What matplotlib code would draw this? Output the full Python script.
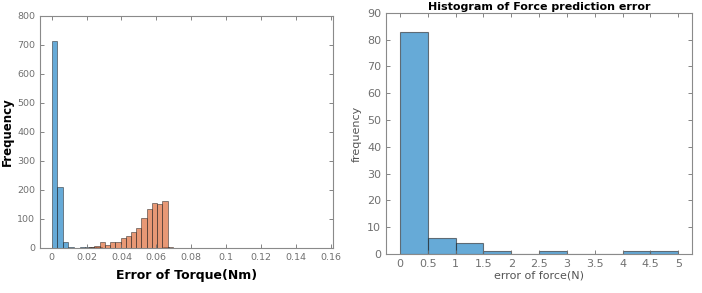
import matplotlib
matplotlib.use("Agg")
import matplotlib.pyplot as plt
import numpy as np

# left: torque error histograms (two overlapping series)
blue_width = 0.0032
blue_counts = [715, 212, 20, 3, 0, 4, 4, 3, 2, 1, 0, 0, 0, 0, 0, 0,
               0, 0, 0, 0, 2, 0, 0, 0, 0, 0, 0, 0, 0, 0, 0, 0,
               0, 0, 0, 0, 0, 0, 0, 0, 0, 0, 0, 0, 0, 0, 0, 0]
orange_start = 0.0185
orange_width = 0.003
orange_counts = [1, 3, 7, 20, 10, 20, 20, 35, 40, 55, 70, 105, 135, 155, 150, 162, 2]

# right: force error histogram
force_edges = [0, 0.5, 1, 1.5, 2, 2.5, 3, 3.5, 4, 4.5, 5]
force_counts = [83, 6, 4, 1, 0, 1, 0, 0, 1, 1]

blue = (0.0, 0.447, 0.741, 0.6)
orange = (0.85, 0.325, 0.098, 0.6)
edge = (0.15, 0.15, 0.15, 0.6)
grey = "#707070"

fig = plt.figure(figsize=(7.02, 2.93), dpi=100)

def style(ax, fs):
    ax.tick_params(direction="in", top=True, right=True, length=3, width=0.6,
                   colors=grey, labelsize=fs, labelcolor=grey)
    for s in ax.spines.values():
        s.set_color("#8a8a8a")
        s.set_linewidth(0.8)

ax1 = fig.add_axes([0.057, 0.1536, 0.417, 0.792])
be = np.arange(len(blue_counts)) * blue_width
ax1.bar(be, blue_counts, width=blue_width, align="edge", color=blue,
        edgecolor=edge, linewidth=0.6)
oe = orange_start + np.arange(len(orange_counts)) * orange_width
ax1.bar(oe, orange_counts, width=orange_width, align="edge", color=orange,
        edgecolor=edge, linewidth=0.6)
ax1.set_xlim(-0.0067, 0.1612)
ax1.set_ylim(0, 800)
ax1.set_xticks(np.arange(0, 0.161, 0.02))
ax1.set_xticklabels(["0", "0.02", "0.04", "0.06", "0.08", "0.1", "0.12", "0.14", "0.16"])
ax1.set_yticks(range(0, 801, 100))
style(ax1, 6.8)
ax1.set_xlabel("Error of Torque(Nm)", fontsize=9, fontweight="bold", labelpad=5)
ax1.set_ylabel("Frequency", fontsize=8.5, fontweight="bold", labelpad=2)

ax2 = fig.add_axes([0.550, 0.133, 0.436, 0.823])
ax2.bar(force_edges[:-1], force_counts, width=np.diff(force_edges), align="edge",
        color=blue, edgecolor=edge, linewidth=0.8)
ax2.set_xlim(-0.25, 5.25)
ax2.set_ylim(0, 90)
ax2.set_xticks(force_edges)
ax2.set_xticklabels(["0", "0.5", "1", "1.5", "2", "2.5", "3", "3.5", "4", "4.5", "5"])
ax2.set_yticks(range(0, 91, 10))
style(ax2, 8)
ax2.set_xlabel("error of force(N)", fontsize=8, color="#555555", labelpad=1)
ax2.set_ylabel("frequency", fontsize=8, color="#555555", labelpad=4)
ax2.set_title("Histogram of Force prediction error", fontsize=8, fontweight="bold", pad=2)

fig.savefig("out.png", dpi=100)
